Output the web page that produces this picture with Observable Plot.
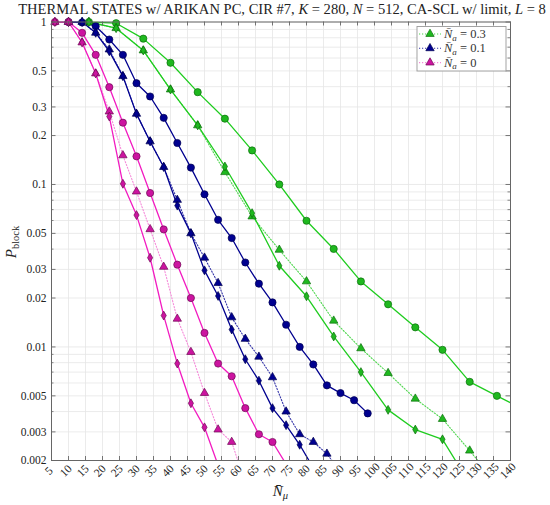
<!DOCTYPE html>
<html><head><meta charset="utf-8">
<script src="https://cdn.jsdelivr.net/npm/d3@7"></script>
<script src="https://cdn.jsdelivr.net/npm/@observablehq/plot@0.6"></script>
<style>
body{margin:0;background:#fff}
svg{font-family:"Liberation Serif","DejaVu Serif",serif}
</style>
</head><body><div id="chart"></div>
<script>
// ---- tick labels ----
const xTicks = [5,10,15,20,25,30,35,40,45,50,55,60,65,70,75,80,85,90,95,100,105,110,115,120,125,130,135,140];
const yTickLabels = [1,0.5,0.3,0.2,0.1,0.05,0.03,0.02,0.01,0.005,0.003,0.002];
const yGrid = [0.002,0.003,0.004,0.005,0.006,0.007,0.008,0.009,0.01,0.02,0.03,0.04,0.05,0.06,0.07,0.08,0.09,0.1,0.2,0.3,0.4,0.5,0.6,0.7,0.8,0.9,1];
const legendLabels = ["0.3","0.1","0"];

// ---- N̄a = 0.3 (green) ----
const greenCircleN = [16,24,32,40,48,56,64,72,80,88,96,104,112,120,128,136,144];
const greenCircleP = [1,0.983,0.79,0.561,0.37,0.254,0.162,0.1,0.0598,0.0401,0.0253,0.0183,0.0132,0.0096,0.0061,0.005,0.0041];
const greenTriN = [16,24,32,40,48,56,64,72,80,88,96,104,112,120,128,136];
const greenTriP = [1,0.916,0.668,0.384,0.231,0.119,0.0635,0.0396,0.0253,0.0145,0.0098,0.0069,0.0048,0.0036,0.0023,0.00144];
const greenDiaN = [16,24,32,40,48,56,64,72,80,88,96,104,112,120,128];
const greenDiaP = [1,0.916,0.668,0.384,0.231,0.129,0.0666,0.0316,0.0205,0.0116,0.007,0.0041,0.0031,0.0027,0.00144];

// ---- N̄a = 0.1 (blue) ----
const blueCircleN = [10,14,18,22,26,30,34,38,42,46,50,54,58,62,66,70,74,78,82,86,90,94,98];
const blueCircleP = [1,0.993,0.942,0.78,0.628,0.42,0.348,0.257,0.18,0.127,0.087,0.0606,0.0468,0.0331,0.0245,0.0188,0.0137,0.01,0.0078,0.0058,0.0052,0.0047,0.0039];
const blueTriN = [10,14,18,22,26,30,34,38,42,46,50,54,58,62,66,70,74,78,82,86,90];
const blueTriP = [1,1,0.858,0.677,0.464,0.272,0.184,0.128,0.0803,0.05,0.0354,0.0247,0.0152,0.0112,0.0087,0.0065,0.004,0.0029,0.0026,0.0022,0.0017];
const blueDiaN = [10,14,18,22,26,30,34,38,42,46,50,54,58,62,66,70,74,78,82];
const blueDiaP = [1,1,0.858,0.66,0.464,0.272,0.184,0.128,0.0741,0.05,0.0296,0.0206,0.0128,0.0084,0.0062,0.0042,0.0033,0.0025,0.0018];

// ---- N̄a = 0 (magenta) ----
const magentaCircleN = [6,10,14,18,22,26,30,34,38,42,46,50,54,58,62,66,70,74];
const magentaCircleP = [1,1,0.858,0.628,0.397,0.24,0.149,0.0886,0.0529,0.0321,0.02,0.0122,0.0079,0.0066,0.0042,0.0029,0.0026,0.0019];
const magentaTriN = [6,10,14,18,22,26,30,34,38,42,46,50,54,58,62];
const magentaTriP = [1,1,0.748,0.482,0.281,0.151,0.0904,0.053,0.0311,0.0149,0.0093,0.0052,0.0031,0.0026,0.00145];
const magentaDiaN = [6,10,14,18,22,26,30,34,38,42,46,50,54];
const magentaDiaP = [1,1,0.748,0.482,0.262,0.101,0.0648,0.0354,0.0156,0.0079,0.0045,0.0032,0.00187];

const colors = {
  green:   {line:"#1fcc1f", dotted:"#4fd64f", fill:"#1fb81f", edge:"#0b6e0b"},
  blue:    {line:"#00008f", dotted:"#3434a8", fill:"#000090", edge:"#000050"},
  magenta: {line:"#f21bc0", dotted:"#f58ad9", fill:"#cc14a0", edge:"#6e0a55"}
};

const seriesList = [
  {c:"green", sym:"circle", dotted:false, N:greenCircleN, P:greenCircleP},
  {c:"green", sym:"triangle", dotted:true, N:greenTriN, P:greenTriP},
  {c:"green", sym:"diamond", dotted:false, N:greenDiaN, P:greenDiaP},
  {c:"blue", sym:"circle", dotted:false, N:blueCircleN, P:blueCircleP},
  {c:"blue", sym:"triangle", dotted:true, N:blueTriN, P:blueTriP},
  {c:"blue", sym:"diamond", dotted:false, N:blueDiaN, P:blueDiaP},
  {c:"magenta", sym:"circle", dotted:false, N:magentaCircleN, P:magentaCircleP},
  {c:"magenta", sym:"triangle", dotted:true, N:magentaTriN, P:magentaTriP},
  {c:"magenta", sym:"diamond", dotted:false, N:magentaDiaN, P:magentaDiaP}
];
const rSym = {circle:3.6, triangle:3.1, diamond:2.7};

const W = 550, H = 505, mL = 51, mR = 40, mT = 21.5, mB = 45;
const innerH = H - mT - mB, innerW = W - mL - mR;

const marks = [
  Plot.ruleX(xTicks, {stroke:"#e6e6e6", strokeWidth:0.8}),
  Plot.ruleY(yGrid, {stroke:"#e6e6e6", strokeWidth:0.8})
];
for (const s of seriesList) {
  const rows = s.N.map((n,i)=>({N:n, P:s.P[i]}));
  const col = colors[s.c];
  marks.push(Plot.line(rows, {x:"N", y:"P", clip:true,
    stroke: s.dotted ? col.dotted : col.line,
    strokeWidth: s.dotted ? 1.1 : 1.3,
    strokeDasharray: s.dotted ? "1.2,1.8" : null}));
}
for (const s of seriesList) {
  const rows = s.N.map((n,i)=>({N:n, P:s.P[i]})).filter(d=>d.P>=0.002 && d.N<=140);
  const col = colors[s.c];
  marks.push(Plot.dot(rows, {x:"N", y:"P", symbol:s.sym, r:rSym[s.sym],
    fill:col.fill, stroke:col.edge, strokeWidth:0.7}));
}
// frame & inward ticks
const yMinor = yGrid.filter(v=>!yTickLabels.includes(v));
marks.push(
  Plot.ruleX(xTicks, {stroke:"#555", strokeWidth:0.8, insetTop: innerH-4}),
  Plot.ruleX(xTicks, {stroke:"#555", strokeWidth:0.8, insetBottom: innerH-4}),
  Plot.ruleY(yTickLabels, {stroke:"#555", strokeWidth:0.8, insetRight: innerW-4.5}),
  Plot.ruleY(yTickLabels, {stroke:"#555", strokeWidth:0.8, insetLeft: innerW-4.5}),
  Plot.ruleY(yMinor, {stroke:"#555", strokeWidth:0.7, insetRight: innerW-2.5}),
  Plot.ruleY(yMinor, {stroke:"#555", strokeWidth:0.7, insetLeft: innerW-2.5}),
  Plot.frame({stroke:"#666", strokeWidth:1}),
  Plot.text(yTickLabels, {y:d=>d, frameAnchor:"left", dx:-5, textAnchor:"end",
    text:d=>String(d), fontSize:11.5, fill:"#222"}),
  Plot.text(xTicks, {x:d=>d, frameAnchor:"bottom", dy:13, rotate:-45,
    text:d=>String(d), fontSize:11.5, fill:"#222"})
);

const chart = Plot.plot({
  width:W, height:H, marginLeft:mL, marginRight:mR, marginTop:mT, marginBottom:mB,
  style:{fontFamily:'"Liberation Serif",serif', background:"#fff", overflow:"visible"},
  x:{domain:[5,140], axis:null},
  y:{type:"log", domain:[0.002,1], axis:null},
  marks
});
document.getElementById("chart").appendChild(chart);

// ---- titles, axis labels, legend (real text) ----
const svg = d3.select(chart);
const title = svg.append("text").attr("x", 282).attr("y", 13.5)
  .attr("text-anchor","middle").attr("fill","#222").style("font-size","14px");
const tparts = [["THERMAL STATES w/ ARIKAN PC, CIR #7, ",false],["K",true],[" = 280, ",false],
  ["N",true],[" = 512, CA-SCL w/ limit, ",false],["L",true],[" = 8",false]];
for (const [t,it] of tparts) title.append("tspan").text(t).style("font-style", it?"italic":"normal");
const tw = title.node().getComputedTextLength();
title.style("font-size", (14*528/tw).toFixed(2)+"px");

const ylab = svg.append("text").attr("transform","translate(15.5,242) rotate(-90)")
  .attr("text-anchor","middle").attr("fill","#222");
ylab.append("tspan").text("P").style("font-style","italic").style("font-size","15px");
ylab.append("tspan").text("block").attr("dy",3).style("font-size","10.5px");

const xlab = svg.append("text").attr("x",280.5).attr("y",496)
  .attr("text-anchor","middle").attr("fill","#222");
xlab.append("tspan").text("N\u0304").style("font-style","italic").style("font-size","15px");
xlab.append("tspan").text("\u03bc").attr("dy",3).style("font-style","italic").style("font-size","10.5px");

const lg = svg.append("g");
lg.append("rect").attr("x",417).attr("y",26.5).attr("width",89).attr("height",44.5)
  .attr("fill","#fff").attr("stroke","#999").attr("stroke-width",0.9);
const lgColors = ["green","blue","magenta"];
legendLabels.forEach((lab,i)=>{
  const y = 34 + i*14.3, col = colors[lgColors[i]];
  lg.append("line").attr("x1",419).attr("x2",441).attr("y1",y).attr("y2",y)
    .attr("stroke",col.dotted).attr("stroke-width",1.1).attr("stroke-dasharray","1.2,1.8");
  lg.append("path").attr("d", d3.symbol(d3.symbolTriangle, Math.PI*3.1*3.1)())
    .attr("transform",`translate(430,${y})`).attr("fill",col.fill).attr("stroke",col.edge).attr("stroke-width",0.7);
  const t = lg.append("text").attr("x",444).attr("y",y+4).attr("text-anchor","start")
    .attr("fill","#333").style("font-size","12.5px");
  t.append("tspan").text("N\u0304").style("font-style","italic");
  t.append("tspan").text("a").attr("dy",2.5).style("font-style","italic").style("font-size","9px");
  t.append("tspan").text(" = " + lab).attr("dy",-2.5);
});
</script></body></html>
